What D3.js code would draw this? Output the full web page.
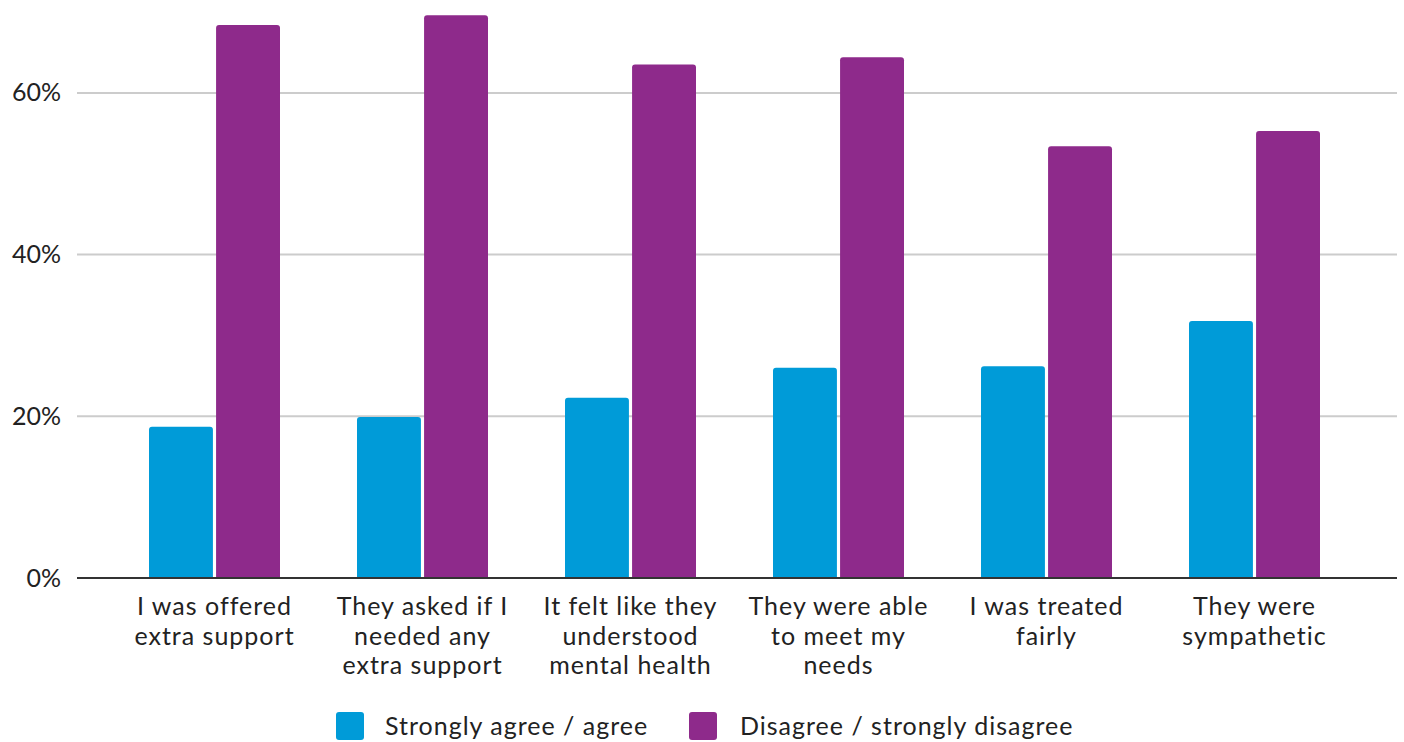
<!DOCTYPE html>
<html><head><meta charset="utf-8">
<script src="https://cdn.jsdelivr.net/npm/d3@7/dist/d3.min.js"></script>
<style>body{margin:0;background:#fff;}svg{display:block;font-family:Lato,"Open Sans",sans-serif;}</style>
</head><body><svg id="c" width="1404" height="742"></svg>
<script>
const categories = [
  ["I was offered","extra support"],
  ["They asked if I","needed any","extra support"],
  ["It felt like they","understood","mental health"],
  ["They were able","to meet my","needs"],
  ["I was treated","fairly"],
  ["They were","sympathetic"]
];
const series = ["Strongly agree / agree","Disagree / strongly disagree"];
const agree =    [0.187, 0.199, 0.223, 0.260, 0.262, 0.318];
const disagree = [0.684, 0.696, 0.635, 0.644, 0.534, 0.553];
const colors = ["#009bd8","#8e2a8b"];
const yTicks = [0, 0.2, 0.4, 0.6];

const svg = d3.select("#c");
const ids = categories.map((c,i)=>i);
const x0 = d3.scaleBand().domain(ids).range([110.5,1358.5]);
const groupW = 131;
const x1 = d3.scaleBand().domain(series).range([0,groupW]).paddingInner(0.047);
const y = d3.scaleLinear().domain([0,0.7]).range([578,578-0.7*808.5]);
const FS = 25;
const FONT = "Lato, 'Open Sans', sans-serif";

// gridlines
svg.append("g").selectAll("line").data(yTicks.filter(t=>t>0)).join("line")
  .attr("x1",77).attr("x2",1397).attr("y1",d=>y(d)).attr("y2",d=>y(d))
  .attr("stroke","#cccccc").attr("stroke-width",2);

// y labels
const yAxis = d3.axisLeft(y).tickValues(yTicks).tickFormat(d3.format(".0%")).tickSize(0).tickPadding(0);
const ya = svg.append("g").attr("transform","translate(61,0)").call(yAxis);
ya.select(".domain").remove();
ya.selectAll("text").attr("font-size",FS).attr("fill","#222").attr("font-family",FONT);

// bars
const data = ids.map(i=>[agree[i],disagree[i]]);
const r = 3;
function roundTop(x,yTop,w,yBot){
  return `M${x},${yBot}V${yTop+r}Q${x},${yTop} ${x+r},${yTop}H${x+w-r}Q${x+w},${yTop} ${x+w},${yTop+r}V${yBot}Z`;
}
const g = svg.append("g").selectAll("g").data(data).join("g")
  .attr("transform",(d,i)=>`translate(${x0(i)+(x0.bandwidth()-groupW)/2},0)`);
g.selectAll("path").data(d=>d.map((v,j)=>({v,j}))).join("path")
  .attr("d",d=>roundTop(x1(series[d.j]),y(d.v),x1.bandwidth(),y(0)))
  .attr("fill",d=>colors[d.j]);

// baseline
svg.append("line").attr("x1",77).attr("x2",1397).attr("y1",y(0)).attr("y2",y(0))
  .attr("stroke","#333").attr("stroke-width",2);

// x labels (one text per line)
const lines = [];
categories.forEach((c,i)=>c.forEach((t,k)=>lines.push({i,k,t})));
svg.append("g").selectAll("text").data(lines).join("text")
  .attr("x",d=>x0(d.i)+x0.bandwidth()/2).attr("y",d=>615+d.k*29.5)
  .attr("text-anchor","middle").attr("font-size",FS).attr("letter-spacing",1)
  .attr("fill","#222").text(d=>d.t);

// legend
const leg = svg.append("g");
const legItems = [{x:336,tx:385},{x:689,tx:740}];
legItems.forEach((p,i)=>{
  leg.append("rect").attr("x",p.x).attr("y",712).attr("width",28).attr("height",28).attr("rx",3).attr("fill",colors[i]);
  leg.append("text").attr("x",p.tx).attr("y",735).attr("font-size",FS).attr("letter-spacing",1)
    .attr("fill","#222").text(series[i]);
});
</script></body></html>
